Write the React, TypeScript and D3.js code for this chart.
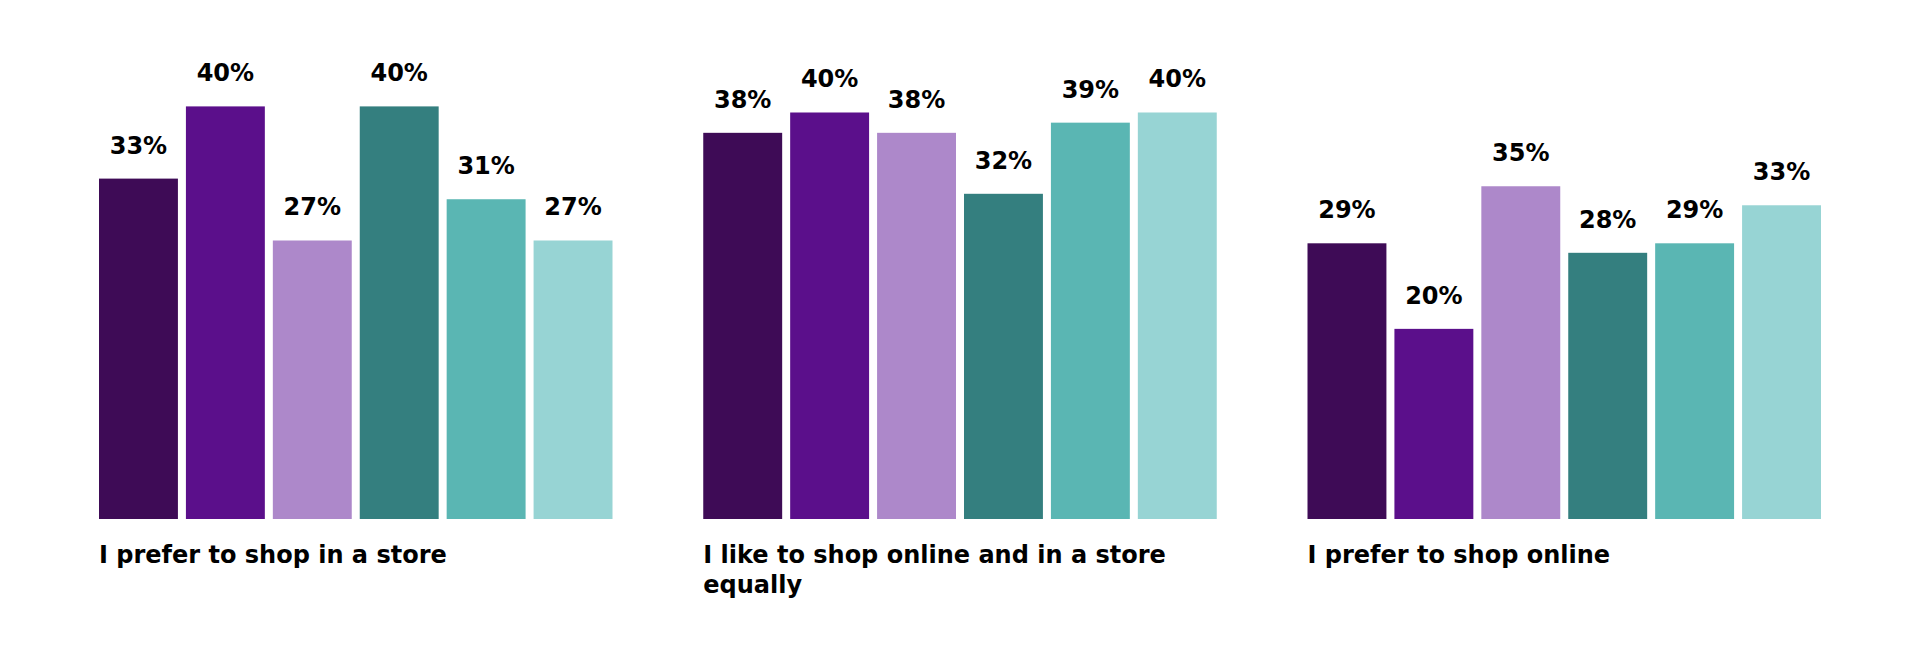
import * as d3 from "d3";
import { useRef, useEffect } from "react";

// panels (x groups) and the six bar series inside each panel
const panels = [
  "I prefer to shop in a store",
  "I like to shop online and in a store equally",
  "I prefer to shop online",
];
const seriesKeys = ["s1", "s2", "s3", "s4", "s5", "s6"];
const seriesColors = ["#3e0b56", "#5b0f8b", "#ad88ca", "#347f7f", "#5ab6b3", "#97d4d4"];

const storeValues = [33, 40, 27, 40, 31, 27];
const equalValues = [38, 40, 38, 32, 39, 40];
const onlineValues = [29, 20, 35, 28, 29, 33];
const panelValues = [storeValues, equalValues, onlineValues];

// each panel was drawn with its own vertical scale in the original
const panelMax = [40, 40.6, 43.4];

function wrap(textSel: any, width: number, lineHeight: number) {
  textSel.each(function (this: SVGTextElement) {
    const text = d3.select(this);
    const words = text.text().split(/\s+/);
    const x = text.attr("x");
    text.text(null);
    let line: string[] = [];
    let tspan = text.append("tspan").attr("x", x).attr("dy", 0);
    for (const w of words) {
      line.push(w);
      tspan.text(line.join(" "));
      if ((tspan.node() as SVGTSpanElement).getComputedTextLength() > width && line.length > 1) {
        line.pop();
        tspan.text(line.join(" "));
        line = [w];
        tspan = text.append("tspan").attr("x", x).attr("dy", lineHeight).text(w);
      }
    }
  });
}

export default function App() {
  const width = 1920;
  const height = 648;
  const marginLeft = 99;
  const marginRight = 99;
  const baseline = 519;
  const plotHeight = 412.6;

  const ref = useRef(null);
  useEffect((): void => {
    document.body.style.margin = "0";
    if (!ref.current) return;
    const svg = d3.select(ref.current);
    svg.selectAll("*").remove();

    const groupWidth = 513.5;
    const x0 = d3
      .scalePoint<string>()
      .domain(panels)
      .range([marginLeft, width - marginRight - groupWidth]);
    const x1 = d3.scaleBand<string>().domain(seriesKeys).range([0, groupWidth]).paddingInner(0.092);

    const font = "'DejaVu Sans', sans-serif";

    panels.forEach((panel, pi) => {
      const y = d3
        .scaleLinear()
        .domain([0, panelMax[pi]])
        .range([baseline, baseline - plotHeight]);
      const g = svg.append("g").attr("transform", `translate(${x0(panel)},0)`);
      const rows = seriesKeys.map((k, i) => ({ key: k, value: panelValues[pi][i], color: seriesColors[i] }));

      g.selectAll("rect")
        .data(rows)
        .join("rect")
        .attr("x", (d) => x1(d.key)!)
        .attr("width", x1.bandwidth())
        .attr("y", (d) => y(d.value))
        .attr("height", (d) => baseline - y(d.value))
        .attr("fill", (d) => d.color);

      g.selectAll("text.val")
        .data(rows)
        .join("text")
        .attr("class", "val")
        .attr("x", (d) => x1(d.key)! + x1.bandwidth() / 2)
        .attr("y", (d) => y(d.value) - 25)
        .attr("text-anchor", "middle")
        .attr("font-family", font)
        .attr("font-weight", 700)
        .attr("font-size", 24)
        .attr("fill", "#000")
        .text((d) => `${d.value}%`);

      g.append("text")
        .attr("x", 0)
        .attr("y", 563)
        .attr("font-family", font)
        .attr("font-weight", 700)
        .attr("font-size", 24)
        .attr("fill", "#000")
        .text(panel)
        .call(wrap, 490, 30);
    });
  }, []);

  return <svg ref={ref} width={width} height={height} style={{ display: "block" }} />;
}
